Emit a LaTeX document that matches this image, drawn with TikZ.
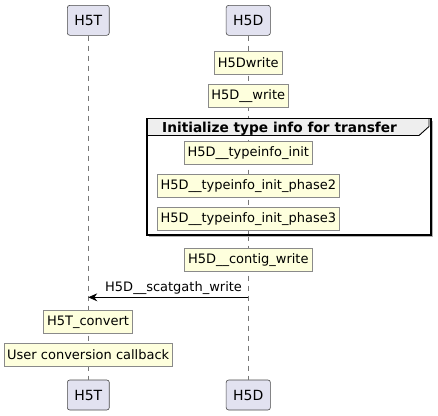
\documentclass[tikz,border=0pt]{standalone}
\usepackage{fontspec}
\setmainfont{DejaVu Sans}
\usetikzlibrary{arrows.meta}
\definecolor{partfill}{HTML}{E2E2F0}
\definecolor{partdraw}{HTML}{484848}
\definecolor{notefill}{HTML}{FEFFDD}
\definecolor{notedraw}{HTML}{8A8A8A}
\definecolor{lifeln}{HTML}{777777}
\definecolor{tabfill}{HTML}{EEEEEE}
\tikzset{
  partbox/.style={draw=partdraw, fill=partfill, line width=0.6pt, rounded corners=2.5pt,
    minimum height=30pt, inner xsep=7pt, font=\fontsize{14}{16}\selectfont},
  notebox/.style={draw=notedraw, fill=notefill, line width=0.7pt, minimum height=23pt,
    inner xsep=3.3pt, inner ysep=0pt, font=\fontsize{13}{15}\selectfont},
  lifeline/.style={draw=lifeln, line width=0.6pt, dash pattern=on 5pt off 5pt},
  msgarrow/.style={draw=black, line width=0.8pt, -{Stealth[length=9pt,width=8pt,inset=3pt]}},
  msglabel/.style={font=\fontsize{13}{15}\selectfont, inner sep=0pt},
  grouptitle/.style={font=\fontsize{13.7}{15}\selectfont\bfseries, inner sep=0pt}
}
\begin{document}
\begin{tikzpicture}[x=1pt,y=-1pt]
\useasboundingbox (0,0) rectangle (438,415);
% participants
\node[partbox] (t1) at (88.3,20.3) {H5T};
\node[partbox] (d1) at (248.3,20.3) {H5D};
\node[partbox] (t2) at (88.3,395) {H5T};
\node[partbox] (d2) at (248.3,395) {H5D};
% lifelines
\draw[lifeline] (t1.south) -- (t2.north);
\draw[lifeline] (d1.south) -- (d2.north);
% group frame
\fill[gray!60] (149,120.5) rectangle (433,237);
\draw[black, line width=1.5pt, fill=white] (147,118.5) rectangle (431,235);
\draw[lifeline] (248.3,119.5) -- (248.3,234);
\path[draw=black, line width=0.9pt, fill=tabfill] (147,118.5) -- (429,118.5) -- (429,126.5) -- (419,135.5) -- (147,135.5) -- cycle;
\draw[black, line width=1.5pt] (147,118.5) rectangle (431,235);
\node[grouptitle, anchor=base west] (gt) at (162,132) {Initialize type info for transfer};
% notes
\node[notebox] (n1) at (248.3,62.5) {H5Dwrite};
\node[notebox] (n2) at (248.3,95.7) {H5D\_\_write};
\node[notebox] (n3) at (248.3,153) {H5D\_\_typeinfo\_init};
\node[notebox] (n4) at (248.3,185.8) {H5D\_\_typeinfo\_init\_phase2};
\node[notebox] (n5) at (248.3,218.8) {H5D\_\_typeinfo\_init\_phase3};
\node[notebox] (n6) at (248.3,259.7) {H5D\_\_contig\_write};
% message
\coordinate (ms) at (248.3,297.3);
\coordinate (me) at (88.3,297.3);
\draw[msgarrow] (ms) -- (me);
\node[msglabel, anchor=base west] (ml) at (105,291.5) {H5D\_\_scatgath\_write};
% notes on H5T
\node[notebox] (n7) at (88,321.9) {H5T\_convert};
\node[notebox] (n8) at (88.2,354.8) {User conversion callback};
\end{tikzpicture}
\end{document}
